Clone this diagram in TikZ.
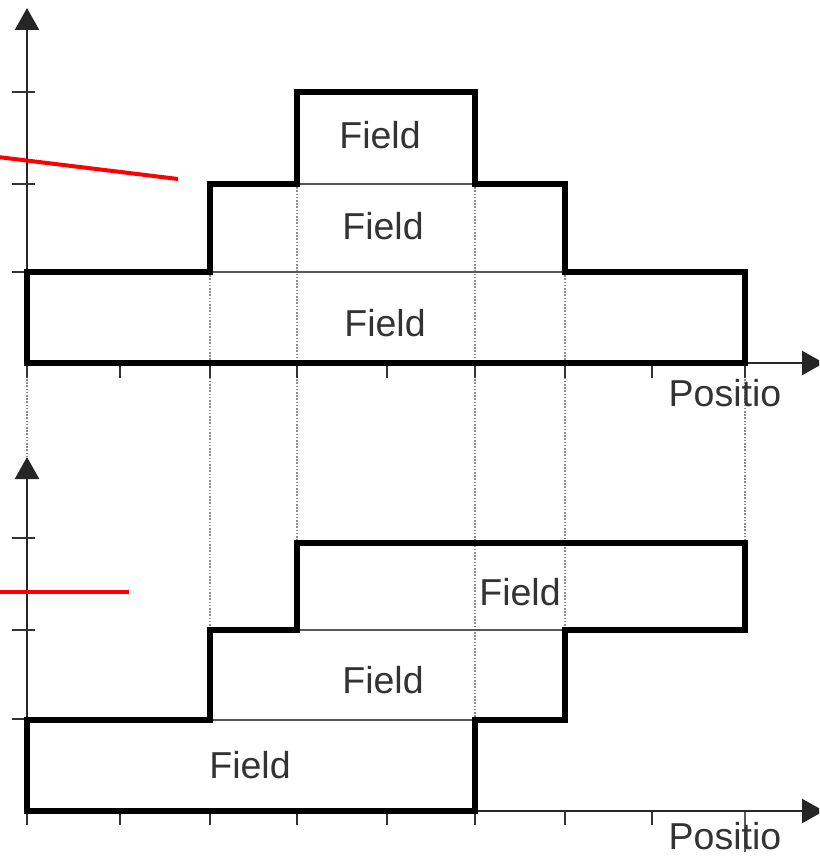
\documentclass[tikz,border=0pt]{standalone}
\usepackage{fontspec}
\setmainfont{Liberation Sans}
\usetikzlibrary{arrows.meta}
\definecolor{inkgray}{HTML}{333333}
\tikzset{
  axisline/.style={draw=black!85, line width=2.5pt, -{Triangle[length=22pt,width=24pt]}},
  tickline/.style={draw=black!80, line width=2pt},
  outline/.style={draw=black, line width=5.5pt, line join=miter},
  seam/.style={draw=black!65, line width=2.2pt},
  guide/.style={draw=black!45, line width=1.6pt, dash pattern=on 1.6pt off 1.6pt},
  marker/.style={draw=red, line width=4pt},
  lbl/.style={font=\fontsize{37.5pt}{40pt}\selectfont, text=inkgray, inner sep=0pt},
}
\begin{document}
\begin{tikzpicture}[x=1pt, y=-1pt]
\useasboundingbox (0,0) rectangle (819,856);
\clip (0,0) rectangle (819,856);

% vertical guides linking the two profiles
\draw[guide] (27,363) -- (27,458);
\draw[guide] (210,272) -- (210,630);
\draw[guide] (297,184) -- (297,543);
\draw[guide] (475,184) -- (475,720);
\draw[guide] (565,272) -- (565,630);
\draw[guide] (745,363) -- (745,543);
\draw[seam, line width=1.6pt] (745,811) -- (745,852);

% ---------- upper profile ----------
\coordinate (yaU0) at (27,363);
\coordinate (yaU1) at (27,8);
\coordinate (xaU1) at (824,363);
\draw[axisline] (yaU0) -- (yaU1);
\draw[axisline] (yaU0) -- (xaU1);
\foreach \y in {92,184,272} \draw[tickline] (12,\y) -- (35,\y);
\foreach \x in {27,120,210,297,387,475,565,652,745} \draw[tickline] (\x,363) -- (\x,378);

\draw[seam] (210,272) -- (565,272);
\draw[seam] (297,184) -- (475,184);
\draw[outline] (27,363) -- (27,272) -- (210,272) -- (210,184) -- (297,184)
  -- (297,92) -- (475,92) -- (475,184) -- (565,184) -- (565,272)
  -- (745,272) -- (745,363) -- cycle;

\node[lbl] (fU3) at (380,135) {Field};
\node[lbl] (fU2) at (383,226) {Field};
\node[lbl] (fU1) at (385,323) {Field};
\node[lbl] (pU) at (725,393) {Positio};

\coordinate (rU0) at (-2,157);
\coordinate (rU1) at (178,179);
\draw[marker] (rU0) -- (rU1);

% ---------- lower profile ----------
\coordinate (yaL0) at (27,811);
\coordinate (yaL1) at (27,457);
\coordinate (xaL1) at (824,811);
\draw[axisline] (yaL0) -- (yaL1);
\draw[axisline] (yaL0) -- (xaL1);
\foreach \y in {538,630,719} \draw[tickline] (12,\y) -- (35,\y);
\foreach \x in {27,120,210,297,387,475,565,652} \draw[tickline] (\x,811) -- (\x,825);

\draw[seam] (210,720) -- (475,720);
\draw[seam] (297,630) -- (565,630);
\draw[outline] (27,811) -- (27,720) -- (210,720) -- (210,630) -- (297,630)
  -- (297,543) -- (745,543) -- (745,630) -- (565,630) -- (565,720)
  -- (475,720) -- (475,811) -- cycle;

\node[lbl] (fL3) at (520,592) {Field};
\node[lbl] (fL2) at (383,680) {Field};
\node[lbl] (fL1) at (250,765) {Field};
\node[lbl] (pL) at (725,836) {Positio};

\coordinate (rL0) at (-2,592);
\coordinate (rL1) at (129,592);
\draw[marker] (rL0) -- (rL1);
\end{tikzpicture}
\end{document}
